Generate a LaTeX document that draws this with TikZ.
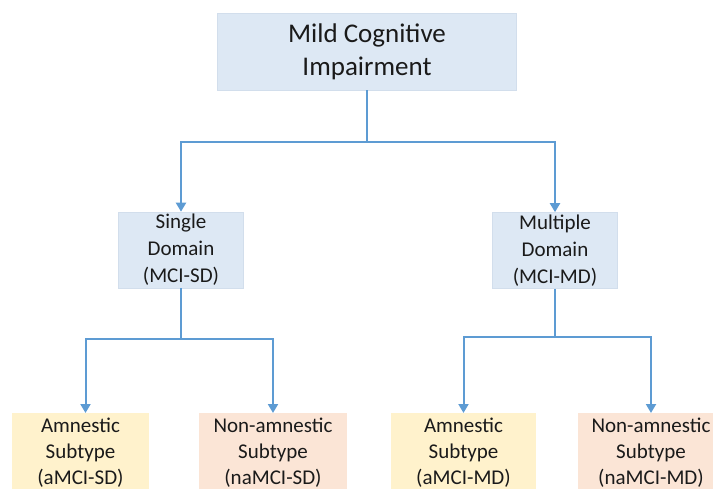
\documentclass[tikz,border=0pt]{standalone}
\usepackage{fontspec}
\setmainfont{Carlito}
\usetikzlibrary{arrows.meta}
\definecolor{boxblue}{HTML}{DDE8F4}
\definecolor{edgeblue}{HTML}{D2DEEC}
\definecolor{boxyellow}{HTML}{FFF2CC}
\definecolor{boxpeach}{HTML}{FBE5D6}
\definecolor{linkblue}{HTML}{5D9BD3}
\definecolor{inktext}{HTML}{1A1A1A}
\begin{document}
\begin{tikzpicture}[x=1pt,y=-1pt,
  basebox/.style={rectangle, align=center, inner sep=0pt, text=inktext},
  topbox/.style={basebox, fill=boxblue, draw=edgeblue, line width=0.6pt,
    minimum width=299pt, minimum height=77pt,
    font=\fontsize{27}{33}\selectfont},
  midbox/.style={basebox, fill=boxblue, draw=edgeblue, line width=0.6pt,
    minimum width=125pt, minimum height=76pt,
    font=\fontsize{21}{27}\selectfont},
  leafbox/.style={basebox, anchor=north, minimum height=78pt,
    font=\fontsize{21}{26}\selectfont},
  amnbox/.style={leafbox, fill=boxyellow},
  nonbox/.style={leafbox, fill=boxpeach},
  link/.style={draw=linkblue, line width=2pt},
  conn/.style={link, -{Triangle[length=9pt,width=10pt]}}]
\useasboundingbox (0,0) rectangle (713,489);
\clip (0,0) rectangle (713,489);

% classification boxes
\node[topbox] (mci) at (367,51.5) {Mild Cognitive\\Impairment};
\node[midbox] (sd) at (181,250) {Single\\Domain\\(MCI-SD)};
\node[midbox] (md) at (555,250.5) {Multiple\\Domain\\(MCI-MD)};
\node[amnbox, minimum width=137pt] (asd) at (80.5,413) {Amnestic\\Subtype\\(aMCI-SD)};
\node[nonbox, minimum width=148pt] (nsd) at (273,413) {Non-amnestic\\Subtype\\(naMCI-SD)};
\node[amnbox, minimum width=145pt] (amd) at (463.5,413) {Amnestic\\Subtype\\(aMCI-MD)};
\node[nonbox, minimum width=146pt] (nmd) at (651,413) {Non-amnestic\\Subtype\\(naMCI-MD)};

% branch points
\coordinate (j0) at (367,142);
\coordinate (j1) at (181,339);
\coordinate (j2) at (555,337);

% branching connectors
\draw[link] (mci.south) -- (j0);
\draw[conn] (j0) -| (sd.north);
\draw[conn] (j0) -| (md.north);
\draw[link] (sd.south) -- (j1);
\draw[conn] (j1) -| ([xshift=5pt]asd.north);
\draw[conn] (j1) -| (nsd.north);
\draw[link] (md.south) -- (j2);
\draw[conn] (j2) -| (amd.north);
\draw[conn] (j2) -| (nmd.north);
\end{tikzpicture}
\end{document}
